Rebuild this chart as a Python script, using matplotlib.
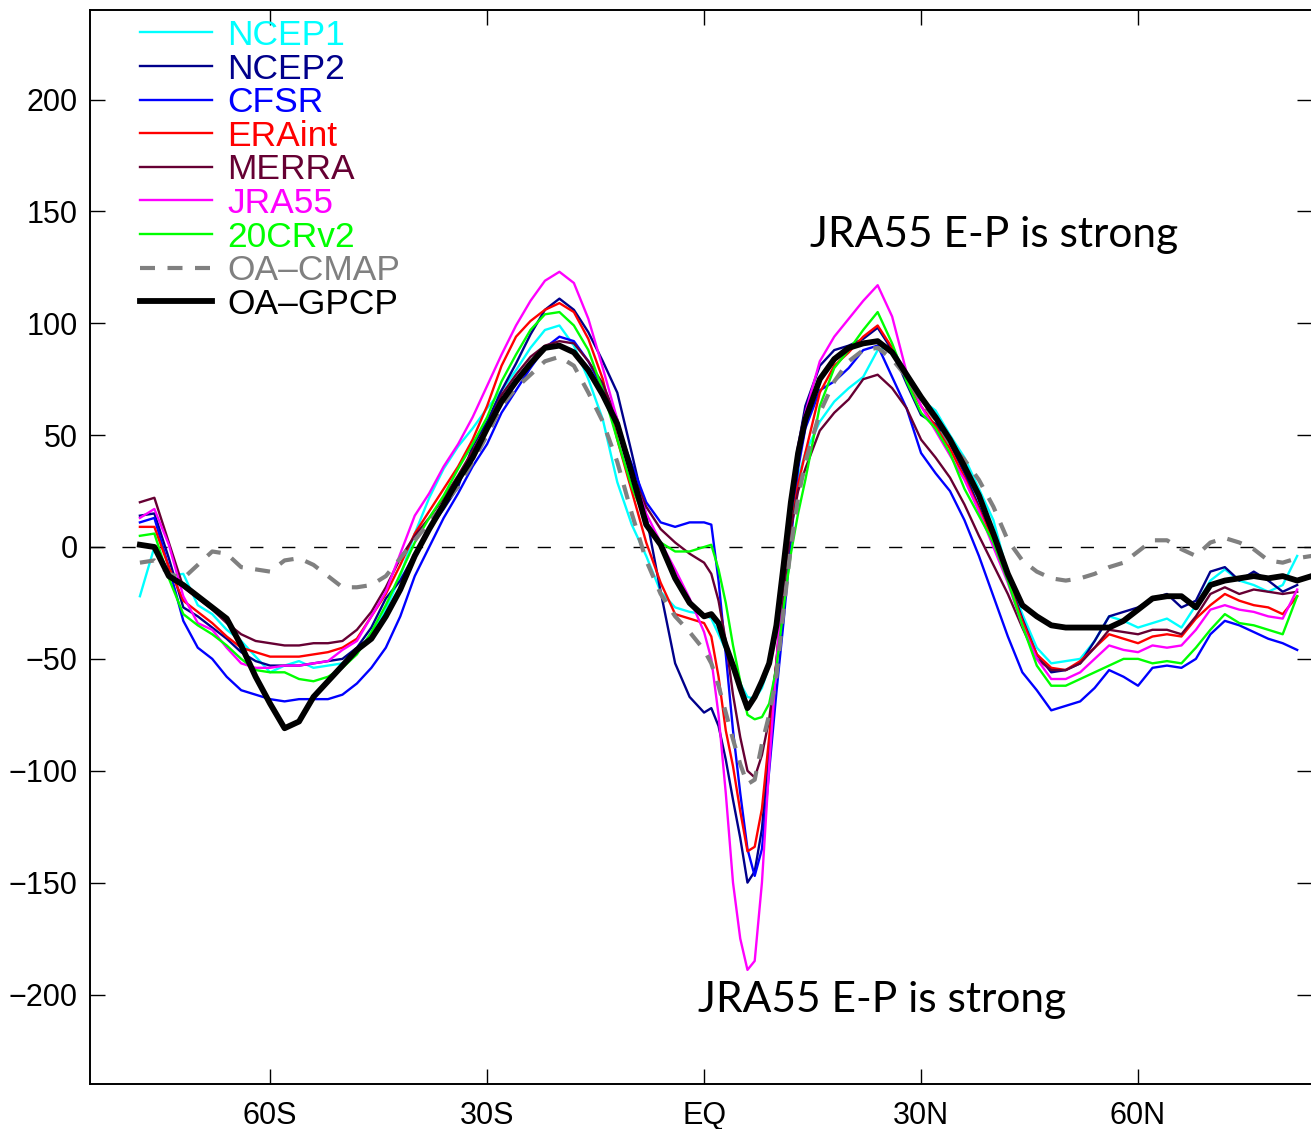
import matplotlib
matplotlib.use("Agg")
import matplotlib.pyplot as plt

plt.rcParams['font.family'] = ['Liberation Sans', 'DejaVu Sans']

# latitude grid (deg, negative = south); 1-degree spacing near the ITCZ dip
lat = list(range(-78, 0, 2)) + list(range(0, 15)) + list(range(16, 83, 2))
lat_obs = lat + [84]

# E-P, SH part / equatorial part / NH part
ncep1 = [-22, 0, -13, -12, -26, -30, -37, -42, -49, -56, -53, -51, -54, -53, -52, -47, -39, -28, -13, 6,
         22, 35, 45, 53, 62, 70, 79, 89, 97, 99, 90, 75, 57, 29, 10, -4, -20, -27, -29,
         -30, -32, -39, -46, -54, -61, -67, -68, -63, -53, -32, -6, 15, 31, 42,
         56, 65, 71, 76, 88, 90, 75, 66, 61, 50, 40, 26, 12, -12, -30, -45, -52, -51, -50, -42,
         -31, -33, -36, -34, -32, -36, -26, -15, -10, -15, -17, -20, -17, -4]
ncep2 = [14, 15, -5, -27, -31, -36, -41, -47, -51, -53, -53, -53, -52, -51, -50, -45, -36, -23, -15, -3,
         8, 17, 27, 45, 56, 70, 82, 95, 106, 111, 106, 96, 83, 69, 42, 14, -20, -52, -67,
         -74, -72, -80, -95, -113, -130, -150, -145, -126, -90, -52, -12, 22, 45, 63,
         81, 88, 90, 93, 98, 88, 73, 59, 55, 46, 33, 18, 3, -14, -32, -48, -56, -55, -52, -42,
         -31, -29, -27, -23, -21, -27, -24, -11, -9, -15, -11, -15, -20, -17]
cfsr = [11, 13, -9, -33, -45, -50, -58, -64, -66, -68, -69, -68, -68, -68, -66, -61, -54, -45, -31, -13,
        0, 13, 24, 36, 46, 60, 70, 80, 89, 94, 92, 83, 71, 54, 37, 20, 11, 9, 11,
        11, 10, -15, -48, -82, -110, -135, -147, -135, -100, -65, -33, 3, 35, 53,
        70, 74, 80, 88, 90, 76, 62, 42, 33, 25, 12, -4, -22, -40, -56, -64, -73, -71, -69, -63,
        -55, -58, -62, -54, -53, -54, -50, -39, -33, -35, -38, -41, -43, -46]
eraint = [9, 9, -9, -24, -29, -34, -40, -45, -47, -49, -49, -49, -48, -47, -45, -41, -31, -21, -8, 6,
          16, 26, 36, 48, 63, 81, 94, 101, 106, 109, 105, 93, 75, 48, 25, 2, -16, -30, -32,
          -34, -40, -58, -82, -98, -118, -136, -134, -117, -85, -51, -16, 8, 28, 42,
          69, 81, 87, 94, 99, 89, 75, 63, 54, 44, 31, 17, 2, -15, -33, -48, -54, -55, -51, -45,
          -39, -41, -43, -40, -39, -40, -32, -26, -21, -24, -26, -27, -30, -22]
merra = [20, 22, 2, -18, -23, -28, -34, -39, -42, -43, -44, -44, -43, -43, -42, -37, -29, -18, -5, 5,
         13, 22, 32, 43, 54, 68, 77, 85, 90, 92, 91, 83, 73, 57, 33, 18, 8, 2, -3,
         -7, -12, -24, -42, -66, -85, -100, -103, -93, -77, -52, -20, 8, 25, 35,
         52, 60, 66, 75, 77, 71, 62, 48, 40, 31, 19, 5, -8, -21, -36, -50, -55, -55, -52, -45,
         -37, -38, -39, -37, -37, -39, -31, -21, -18, -21, -19, -20, -21, -20]
jra55 = [13, 17, 1, -22, -34, -37, -45, -52, -54, -54, -53, -53, -52, -51, -46, -42, -31, -20, -3, 14,
         24, 36, 46, 58, 72, 86, 99, 110, 119, 123, 118, 102, 80, 57, 33, 15, 2, -10, -23,
         -38, -50, -75, -110, -150, -175, -189, -185, -150, -98, -52, -8, 18, 45, 60,
         83, 94, 102, 110, 117, 103, 78, 63, 52, 41, 30, 16, 0, -16, -35, -50, -59, -59, -56, -50,
         -44, -46, -47, -44, -45, -44, -37, -28, -26, -28, -29, -31, -32, -19]
cr20v2 = [5, 6, -14, -30, -35, -39, -44, -50, -55, -56, -56, -59, -60, -58, -54, -48, -38, -26, -12, 2,
          13, 23, 35, 46, 58, 74, 86, 97, 104, 105, 99, 88, 70, 48, 27, 11, 2, -2, -2,
          0, 1, -10, -25, -44, -60, -75, -77, -76, -70, -54, -27, -3, 15, 30,
          63, 80, 88, 97, 105, 91, 74, 60, 53, 42, 26, 14, 2, -15, -35, -53, -62, -62, -59, -56,
          -53, -50, -50, -52, -51, -52, -45, -37, -30, -34, -35, -37, -39, -22]
oa_cmap = [-7, -6, -12, -14, -8, -2, -3, -9, -10, -11, -6, -5, -8, -13, -18, -18, -17, -13, -5, 3,
           11, 19, 27, 38, 50, 63, 71, 77, 83, 85, 81, 69, 56, 38, 15, -6, -21, -31, -38,
           -46, -52, -62, -74, -86, -97, -106, -104, -88, -75, -58, -28, 0, 22, 38,
           60, 74, 83, 88, 89, 84, 76, 65, 57, 46, 39, 30, 18, 3, -6, -11, -14, -15, -14, -12,
           -9, -7, -2, 3, 3, -1, -4, 2, 4, 2, -1, -6, -7, -5, -4]
oa_gpcp = [1, 0, -13, -17, -22, -27, -32, -44, -58, -70, -81, -78, -67, -60, -53, -46, -41, -31, -19, -4,
           8, 19, 30, 40, 53, 65, 74, 82, 89, 90, 87, 79, 68, 55, 33, 10, 1, -14, -25,
           -31, -30, -34, -44, -53, -63, -72, -67, -60, -52, -35, -8, 20, 42, 57,
           75, 84, 89, 91, 92, 87, 77, 67, 58, 48, 36, 23, 6, -12, -26, -31, -35, -36, -36, -36,
           -36, -33, -28, -23, -22, -22, -27, -17, -15, -14, -13, -14, -13, -15, -13]

names = ['NCEP1', 'NCEP2', 'CFSR', 'ERAint', 'MERRA', 'JRA55', '20CRv2', 'OA\u2013CMAP', 'OA\u2013GPCP']
colors = ['#00ffff', '#00008b', '#0000ff', '#ff0000', '#660033', '#ff00ff', '#00ff00', '#808080', '#000000']
series = [ncep1, ncep2, cfsr, eraint, merra, jra55, cr20v2, oa_cmap, oa_gpcp]

xticks = [-60, -30, 0, 30, 60]
xticklabels = ['60S', '30S', 'EQ', '30N', '60N']
yticks = [-200, -150, -100, -50, 0, 50, 100, 150, 200]

fig = plt.figure(figsize=(13.11, 11.29), dpi=100)
ax = fig.add_axes([90 / 1311, 45 / 1129, 1222 / 1311, 1074 / 1129])

ax.axhline(0, color='k', lw=1.0, ls=(0, (9.5, 13.5)), zorder=1)

styles = []
for i, (name, col, vals) in enumerate(zip(names, colors, series)):
    if name == 'OA\u2013CMAP':
        kw = dict(lw=3.0, ls=(0, (3.6, 3.0)))
        x = lat_obs
    elif name == 'OA\u2013GPCP':
        kw = dict(lw=4.2, ls='-')
        x = lat_obs
    else:
        kw = dict(lw=1.7, ls='-')
        x = lat
    ax.plot(x, vals, color=col, zorder=2 + i, **kw)
    styles.append(kw)

# legend in the MATLAB style: no box, coloured labels
for i, (name, col, kw) in enumerate(zip(names, colors, styles)):
    ypx = 32.3 + 33.6 * i
    yax = 1 - (ypx - 10) / 1074
    ax.plot([50 / 1222, 122 / 1222], [yax, yax], color=col, transform=ax.transAxes,
            clip_on=False, zorder=20, **kw)
    ax.text(137 / 1222, 1 - (ypx + 12.7 - 10) / 1074, name, color=col, fontsize=25.5,
            transform=ax.transAxes, ha='left', va='baseline')

ax.text(14.65, 134, 'JRA55 E-P is strong', fontsize=30.6, family='Lato', ha='left', va='baseline')
ax.text(-0.83, -208, 'JRA55 E-P is strong', fontsize=30.6, family='Lato', ha='left', va='baseline')

ax.set_xlim(-84.9, 84.05)
ax.set_ylim(-240, 240)
ax.set_xticks(xticks)
ax.set_xticklabels(xticklabels)
ax.set_yticks(yticks)
ax.tick_params(direction='in', length=11, width=1.0, top=True, right=True, labelsize=22)
ax.tick_params(axis='y', pad=9)
ax.tick_params(axis='x', pad=12)
for s in ax.spines.values():
    s.set_linewidth(1.4)

fig.savefig('out.png', dpi=100)
